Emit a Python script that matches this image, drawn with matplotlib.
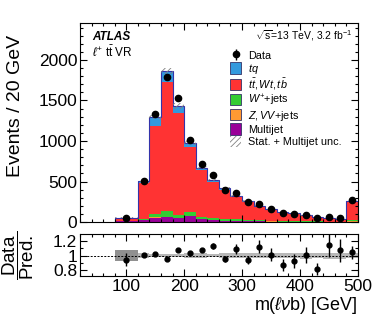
import numpy as np
import matplotlib
matplotlib.use("Agg")
import matplotlib.pyplot as plt
from matplotlib.patches import Patch

plt.rcParams['font.family'] = ['Liberation Sans', 'DejaVu Sans']
plt.rcParams['mathtext.fontset'] = 'custom'
plt.rcParams['mathtext.rm'] = 'Liberation Sans'
plt.rcParams['mathtext.it'] = 'Liberation Sans:italic'
plt.rcParams['mathtext.bf'] = 'Liberation Sans:bold'
plt.rcParams['hatch.linewidth'] = 0.6
plt.rcParams['hatch.color'] = '#808080'

# bin edges (GeV), first bin is 40 GeV wide
edges = [80, 120, 140, 160, 180, 200, 220, 240, 260, 280, 300,
         320, 340, 360, 380, 400, 420, 440, 460, 480, 500]

# stacked components (events / 20 GeV)
multijet = [12, 20, 55, 62, 45, 70, 33, 22, 16, 15, 10, 8, 6, 5, 4, 3, 3, 2, 2, 5]
zvv = [1, 3, 5, 6, 5, 5, 4, 3, 2, 2, 2, 1, 1, 1, 1, 1, 1, 1, 1, 2]
wjets = [2, 15, 45, 70, 40, 45, 30, 25, 22, 18, 12, 10, 8, 6, 5, 4, 3, 3, 2, 12]
ttbar = [37, 439, 1080, 1594, 1252, 810, 578, 444, 358, 276, 224, 170, 138, 105, 92, 70, 50, 45, 36, 236]
tq = [3, 29, 115, 136, 90, 49, 25, 24, 18, 14, 11, 9, 7, 6, 5, 4, 3, 3, 2, 10]

data = [52, 508, 1330, 1790, 1535, 1010, 718, 585, 395, 354, 243, 222, 162, 107, 99, 83, 49, 62, 46, 276]
ratio_err = [0.09, 0.02, 0.02, 0.02, 0.02, 0.03, 0.03, 0.045, 0.04, 0.07, 0.05, 0.09,
             0.085, 0.08, 0.095, 0.11, 0.08, 0.17, 0.15, 0.085]
band_err = [0.075, 0.03, 0.02, 0.02, 0.025, 0.03, 0.03, 0.025, 0.03, 0.035, 0.03, 0.03,
            0.035, 0.03, 0.035, 0.04, 0.035, 0.04, 0.04, 0.035]

edges = np.array(edges, dtype=float)
centers = 0.5 * (edges[1:] + edges[:-1])
comps = [(multijet, '#990099'),
         (zvv, '#ff9933'),
         (wjets, '#33cc33'),
         (ttbar, '#ff3333'),
         (tq, '#3399dd')]

fig = plt.figure(figsize=(3.78, 3.19), dpi=100)
ax = fig.add_axes([0.2116, 0.304, 0.735, 0.625])
rax = fig.add_axes([0.2116, 0.135, 0.735, 0.130])

base = np.zeros(len(centers))
for vals, fc in comps:
    v = np.array(vals, dtype=float)
    ax.stairs(base + v, edges, baseline=base, fill=True, facecolor=fc,
              edgecolor='none')
    base = base + v
pred = base
ax.stairs(pred, edges, baseline=0, color='#3333aa', lw=0.8)

unc = np.array(band_err) * pred
ax.stairs(pred + unc, edges, baseline=pred - unc, fill=True, facecolor='none',
          edgecolor='#808080', hatch='//////', lw=0)

data = np.array(data, dtype=float)
ratio = data / pred
rerr = np.array(ratio_err)
dat = ax.errorbar(centers, data, yerr=rerr * pred, fmt='o', color='black', ms=4.5,
                  elinewidth=1.0, capsize=0)

ax.set_xlim(20, 500)
ax.set_ylim(0, 2460)
ax.set_ylabel('Events / 20 GeV', fontsize=14, loc='top')
ax.yaxis.set_label_coords(-0.2, 0.94)
ax.set_yticks([0, 500, 1000, 1500, 2000])
ax.set_yticks(np.arange(0, 2460, 100), minor=True)
ax.set_xticks(np.arange(100, 501, 100))
ax.set_xticks(np.arange(20, 501, 20), minor=True)
ax.tick_params(labelbottom=False)

for a in (ax, rax):
    a.tick_params(which='both', direction='in', top=True, right=True, labelsize=12.5)
    a.tick_params(which='major', length=5, width=0.8)
    a.tick_params(which='minor', length=2.5, width=0.8)
    a.tick_params(axis='both', pad=2)
    for s in a.spines.values():
        s.set_linewidth(0.8)

ax.text(0.043, 0.928, 'ATLAS', transform=ax.transAxes, fontsize=8.5,
        fontweight='bold', fontstyle='italic', va='center')
ax.text(0.043, 0.853, r'$\ell^{+}$ t$\bar{\rm t}$ VR', transform=ax.transAxes,
        fontsize=8.5, va='center')
ax.text(0.98, 0.97, r'$\sqrt{\rm s}$=13 TeV, 3.2 fb$^{-1}$', transform=ax.transAxes,
        fontsize=7.5, ha='right', va='top')

handles = [dat,
           Patch(facecolor='#3399dd', edgecolor='#333366', lw=0.6),
           Patch(facecolor='#ff3333', edgecolor='#333366', lw=0.6),
           Patch(facecolor='#33cc33', edgecolor='#333366', lw=0.6),
           Patch(facecolor='#ff9933', edgecolor='#333366', lw=0.6),
           Patch(facecolor='#990099', edgecolor='#333366', lw=0.6),
           Patch(facecolor='none', edgecolor='#808080', hatch='//////', lw=0)]
labels = ['Data', r'$tq$', r'$t\bar{t}, Wt, t\bar{b}$', r'$W^{+}$+jets',
          r'$Z, VV$+jets', 'Multijet', 'Stat. + Multijet unc.']
ax.legend(handles, labels, loc='upper left', bbox_to_anchor=(0.54, 0.865),
          frameon=False, fontsize=7.8, handlelength=1.05, handleheight=1.2,
          labelspacing=0.08, handletextpad=0.6, borderpad=0, borderaxespad=0)

# ratio panel
for i in range(len(centers)):
    c = '#909090' if i == 0 else '#b8b8b8'
    rax.fill_between([edges[i], edges[i + 1]], 1 - band_err[i], 1 + band_err[i],
                     color=c, lw=0)
rax.axhline(1.0, color='black', ls=(0, (2, 1.5)), lw=0.7)
rax.errorbar(centers, ratio, yerr=rerr, fmt='o', color='black', ms=3.5,
             elinewidth=1.0, capsize=0)
rax.set_xlim(20, 500)
rax.set_ylim(0.725, 1.285)
rax.set_yticks([0.8, 1.0, 1.2])
rax.set_yticklabels(['0.8', '1', '1.2'])
rax.set_yticks(np.arange(0.8, 1.25, 0.1), minor=True)
rax.set_xticks(np.arange(100, 501, 100))
rax.set_xticks(np.arange(20, 501, 20), minor=True)
rax.set_ylabel(r'$\dfrac{\rm Data}{\rm Pred.}$', fontsize=13.5)
rax.yaxis.set_label_coords(-0.16, 0.5)
rax.set_xlabel(r'm($\ell\nu$b) [GeV]', fontsize=13, loc='right')
rax.xaxis.set_label_coords(1.0, -0.46)
rax.xaxis.label.set_va('top')

fig.savefig('out.png', dpi=100)
